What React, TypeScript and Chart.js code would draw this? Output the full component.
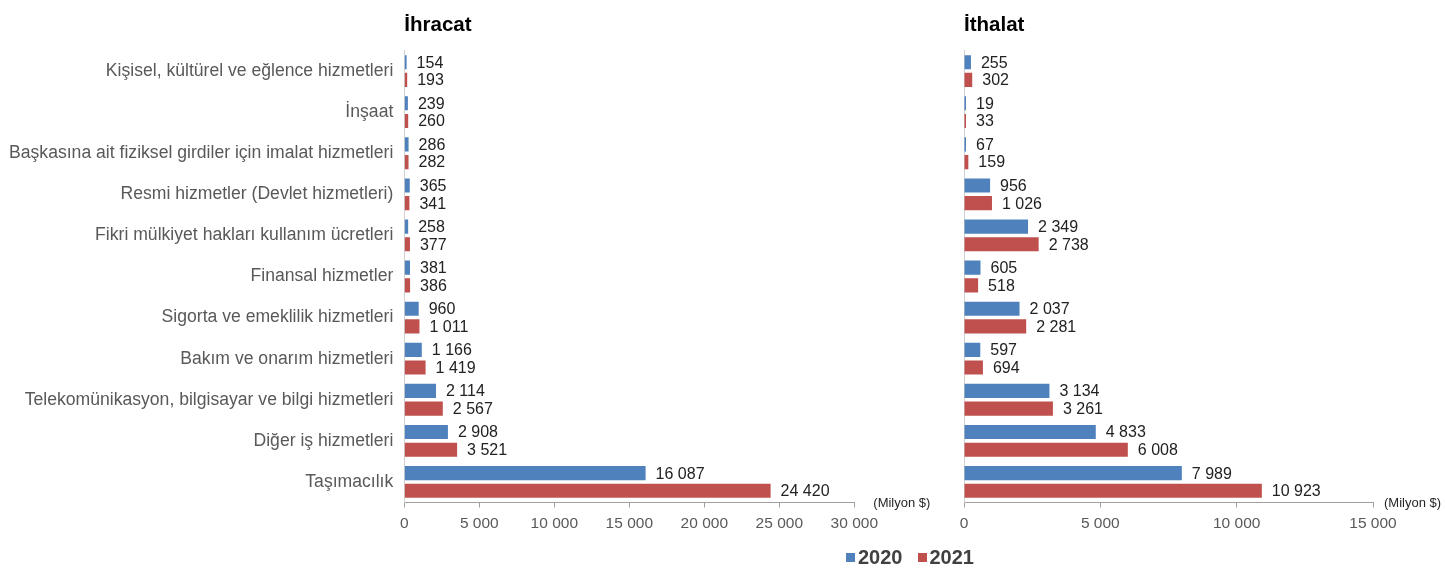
import React, { useEffect, useRef } from 'react';
import { Chart, registerables, ChartConfiguration, Plugin } from 'chart.js';

Chart.register(...registerables);

const categories = [
  'Kişisel, kültürel ve eğlence hizmetleri',
  'İnşaat',
  'Başkasına ait fiziksel girdiler için imalat hizmetleri',
  'Resmi hizmetler (Devlet hizmetleri)',
  'Fikri mülkiyet hakları kullanım ücretleri',
  'Finansal hizmetler',
  'Sigorta ve emeklilik hizmetleri',
  'Bakım ve onarım hizmetleri',
  'Telekomünikasyon, bilgisayar ve bilgi hizmetleri',
  'Diğer iş hizmetleri',
  'Taşımacılık',
];

const exports2020 = [154, 239, 286, 365, 258, 381, 960, 1166, 2114, 2908, 16087];
const exports2021 = [193, 260, 282, 341, 377, 386, 1011, 1419, 2567, 3521, 24420];
const imports2020 = [255, 19, 67, 956, 2349, 605, 2037, 597, 3134, 4833, 7989];
const imports2021 = [302, 33, 159, 1026, 2738, 518, 2281, 694, 3261, 6008, 10923];

const exportTicks = [0, 5000, 10000, 15000, 20000, 25000, 30000];
const importTicks = [0, 5000, 10000, 15000];

const seriesLabels = ['2020', '2021'];
const exportTitle = 'İhracat';
const importTitle = 'İthalat';
const unitLabel = '(Milyon $)';

const BLUE = '#4F81BD';
const RED = '#C0504D';
const FONT = "'Liberation Sans', Arial, sans-serif";

const fmt = (v: number) => String(v).replace(/\B(?=(\d{3})+(?!\d))/g, ' ');

interface PanelProps {
  width: number;
  title: string;
  data2020: number[];
  data2021: number[];
  ticks: number[];
  showLabels: boolean;
  yWidth: number;
  rightPad: number;
  unitOffset: number;
}

const Panel: React.FC<PanelProps> = ({ width, title, data2020, data2021, ticks, showLabels, yWidth, rightPad, unitOffset }) => {
  const canvasRef = useRef<HTMLCanvasElement>(null);

  useEffect(() => {
    if (!canvasRef.current) return;

    // values at the bar ends, plus title and unit text
    const extras: Plugin<'bar'> = {
      id: 'extras',
      afterDatasetsDraw(chart) {
        const { ctx, chartArea } = chart;
        ctx.save();
        ctx.font = `16px ${FONT}`;
        ctx.fillStyle = '#222';
        ctx.textBaseline = 'middle';
        ctx.textAlign = 'left';
        chart.data.datasets.forEach((ds, i) => {
          const meta = chart.getDatasetMeta(i);
          meta.data.forEach((bar: any, j) => {
            ctx.fillText(fmt(ds.data[j] as number), bar.x + 10, bar.y + 1);
          });
        });

        ctx.font = `bold 20.5px ${FONT}`;
        ctx.fillStyle = '#000';
        ctx.textBaseline = 'alphabetic';
        ctx.fillText(title, chartArea.left, 31);

        ctx.font = `13px ${FONT}`;
        ctx.fillStyle = '#262626';
        ctx.textBaseline = 'middle';
        ctx.fillText(unitLabel, chartArea.right + unitOffset, chartArea.bottom + 1);
        ctx.restore();
      },
    };

    const config: ChartConfiguration<'bar'> = {
      type: 'bar',
      data: {
        labels: categories,
        datasets: [
          {
            label: seriesLabels[0],
            data: data2020,
            backgroundColor: BLUE,
            borderWidth: 0,
            barPercentage: 0.8,
            categoryPercentage: 0.86,
            minBarLength: 2,
          },
          {
            label: seriesLabels[1],
            data: data2021,
            backgroundColor: RED,
            borderWidth: 0,
            barPercentage: 0.8,
            categoryPercentage: 0.86,
            minBarLength: 2,
          },
        ],
      },
      options: {
        indexAxis: 'y',
        responsive: false,
        animation: false,
        layout: { padding: { left: 0, right: rightPad, top: 50.5, bottom: 0 } },
        plugins: { legend: { display: false }, tooltip: { enabled: false } },
        scales: {
          x: {
            min: 0,
            max: ticks[ticks.length - 1],
            afterBuildTicks: (scale: any) => {
              scale.ticks = ticks.map(v => ({ value: v }));
            },
            afterFit: (scale: any) => {
              scale.height = 73.5;
            },
            ticks: {
              callback: (v: any) => fmt(Number(v)),
              font: { family: FONT, size: 15.5 },
              color: '#595959',
              padding: 7,
              maxRotation: 0,
            },
            grid: { drawOnChartArea: false, drawTicks: true, tickLength: 5, color: '#A0A0A0' },
            border: { display: true, color: '#A0A0A0' },
          },
          y: {
            afterFit: (scale: any) => {
              scale.width = yWidth;
            },
            ticks: {
              display: showLabels,
              font: { family: FONT, size: 17.6 },
              color: '#595959',
              padding: 11,
            },
            grid: { drawOnChartArea: false, drawTicks: false },
            border: { display: true, color: '#D0D0D0' },
          },
        },
      },
      plugins: [extras],
    };

    const chart = new Chart(canvasRef.current, config);
    return () => {
      chart.destroy();
    };
  }, []);

  return <canvas ref={canvasRef} width={width} height={576}></canvas>;
};

const App: React.FC = () => {
  return (
    <div style={{ position: 'fixed', left: 0, top: 0, width: 1445, height: 576, background: '#fff', fontFamily: FONT }}>
      <div style={{ position: 'absolute', left: 0, top: 0 }}>
        <Panel
          width={945}
          title={exportTitle}
          data2020={exports2020}
          data2021={exports2021}
          ticks={exportTicks}
          showLabels={true}
          yWidth={404.3}
          rightPad={90.7}
          unitOffset={19}
        />
      </div>
      <div style={{ position: 'absolute', left: 945, top: 0 }}>
        <Panel
          width={500}
          title={importTitle}
          data2020={imports2020}
          data2021={imports2021}
          ticks={importTicks}
          showLabels={false}
          yWidth={19}
          rightPad={72}
          unitOffset={11}
        />
      </div>
      {/* legend */}
      <div style={{ position: 'absolute', left: 846, top: 545, display: 'flex', alignItems: 'center', fontWeight: 'bold', fontSize: 20, color: '#404040', lineHeight: '24px' }}>
        <span style={{ display: 'inline-block', width: 9, height: 9, background: BLUE, marginRight: 3 }}></span>
        <span>{seriesLabels[0]}</span>
        <span style={{ display: 'inline-block', width: 9, height: 9, background: RED, marginLeft: 15, marginRight: 3 }}></span>
        <span>{seriesLabels[1]}</span>
      </div>
    </div>
  );
};

export default App;
